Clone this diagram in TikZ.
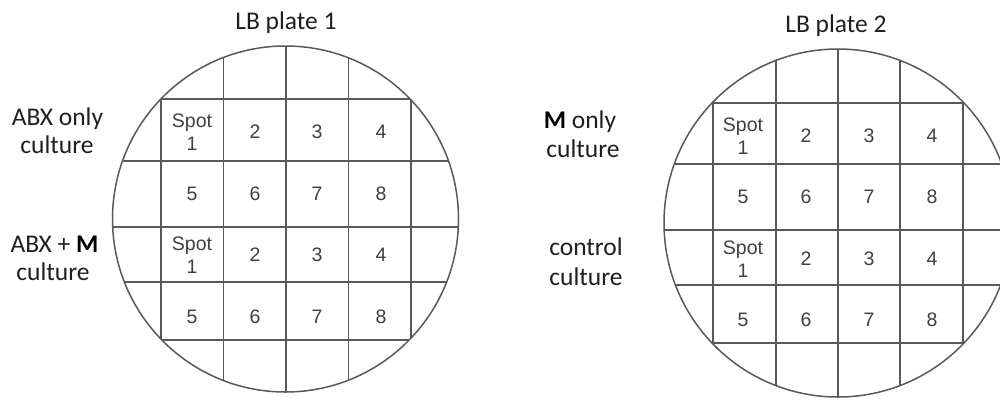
\documentclass[tikz,border=0pt]{standalone}
\usepackage{fontspec}
\setmainfont{Carlito}
\newfontfamily\cellfont{Liberation Sans}
\begin{document}
\begin{tikzpicture}[x=1pt,y=-1pt,
  plateline/.style={draw=black!65, line width=1.5pt},
  lbl/.style={font=\fontsize{25.5}{28}\selectfont, text=black!88, inner sep=0, anchor=base},
  cell/.style={font=\cellfont\fontsize{19.5}{23}\selectfont, text=black!75, align=center, inner sep=0}]
\clip (0,0) rectangle (1000,400);
\fill[white] (0,0) rectangle (1000,400);
% ---------- plate 1 ----------
\begin{scope}
  \clip (285.5,219) circle (173);
  \foreach \x in {161,223.5,286,348.5,411} \draw[plateline] (\x,0) -- (\x,400);
  \foreach \y in {99,161,227,282,340} \draw[plateline] (90,\y) -- (480,\y);
\end{scope}
\draw[plateline] (285.5,219) circle (173);
\node[lbl] (title1) at (286,29.5) {LB plate 1};
\node[lbl] (abxa) at (57.5,125) {ABX only};
\node[lbl] (abxb) at (57,153) {culture};
\node[lbl] (abmA) at (54.5,252) {ABX + \textbf{\color{black}M}};
\node[lbl] (abmB) at (53,280) {culture};
\foreach \r/\y in {a/132,c/255} {
  \node[cell] (p1\r1) at (192,\y) {Spot\\1};
  \node[cell] (p1\r2) at (255,\y) {2};
  \node[cell] (p1\r3) at (317,\y) {3};
  \node[cell] (p1\r4) at (381,\y) {4};
}
\foreach \r/\y in {b/193.5,d/316.5} {
  \node[cell] (p1\r5) at (192,\y) {5};
  \node[cell] (p1\r6) at (255,\y) {6};
  \node[cell] (p1\r7) at (317,\y) {7};
  \node[cell] (p1\r8) at (381,\y) {8};
}
% ---------- plate 2 ----------
\begin{scope}
  \clip (838,223) circle (174);
  \foreach \x in {713,776,838,900,963} \draw[plateline] (\x,0) -- (\x,400);
  \foreach \y in {103,164,230,285,343} \draw[plateline] (640,\y) -- (1020,\y);
\end{scope}
\draw[plateline] (838,223) circle (174);
\node[lbl] (title2) at (836,32) {LB plate 2};
\node[lbl] (mona) at (580,128) {\textbf{\color{black}M} only};
\node[lbl] (monb) at (583,157) {culture};
\node[lbl] (cona) at (586,255) {control};
\node[lbl] (conb) at (586,285) {culture};
\foreach \r/\y in {a/136,c/259} {
  \node[cell] (p2\r1) at (743,\y) {Spot\\1};
  \node[cell] (p2\r2) at (806,\y) {2};
  \node[cell] (p2\r3) at (869,\y) {3};
  \node[cell] (p2\r4) at (932,\y) {4};
}
\foreach \r/\y in {b/197,d/320} {
  \node[cell] (p2\r5) at (743,\y) {5};
  \node[cell] (p2\r6) at (806,\y) {6};
  \node[cell] (p2\r7) at (869,\y) {7};
  \node[cell] (p2\r8) at (932,\y) {8};
}
\end{tikzpicture}
\end{document}
